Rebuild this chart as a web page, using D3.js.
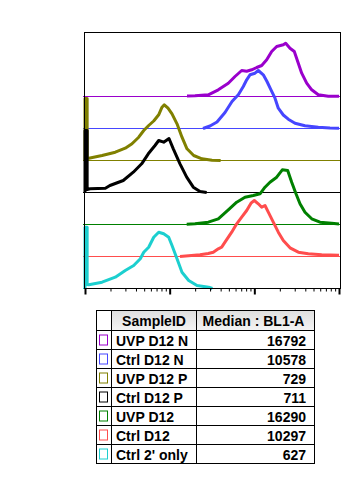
<!DOCTYPE html>
<html>
<head>
<meta charset="utf-8">
<script src="https://cdn.jsdelivr.net/npm/d3@7"></script>
<style>
  html, body { margin: 0; padding: 0; background: #fff; }
  svg { display: block; }
  text { font-family: "Liberation Sans", Arial, sans-serif; font-weight: bold; font-size: 14px; fill: #000; }
</style>
</head>
<body>
<svg id="chart" width="361" height="484"></svg>
<script>
// ---------------- data ----------------
const sampleIds = ["UVP D12 N", "Ctrl D12 N", "UVP D12 P", "Ctrl D12 P", "UVP D12", "Ctrl D12", "Ctrl 2' only"];
const medians = [16792, 10578, 729, 711, 16290, 10297, 627];
const tableHeaders = ["SampleID", "Median : BL1-A"];
const axisDomain = [100, 100000];

// histograms: [BL1-A intensity, count]
const histUVP_D12_N = [[1602,0.5],[1992,0.7],[2859,1.7],[3752,6.7],[4926,13.3],[5910,20],[7091,26],[8123,25.3],[9306,26.7],[10665,29],[12217,31],[13996,36.7],[16030,45],[18370,50],[21980,51.7],[23460,53.3],[26380,48.3],[29650,45],[33060,33.3],[36260,23.3],[41540,13.3],[47600,6.7],[56940,1.7],[74730,0.3],[100000,0.2]];
const histCtrl_D12_N = [[2476,0],[2995,2.5],[3622,6.5],[4503,16],[5449,27],[6466,33.7],[7407,42],[8123,48.7],[8884,53.7],[10181,55.3],[11139,58],[12757,53.7],[14110,47],[15730,38.7],[17540,30.3],[19190,20.3],[21980,13.5],[25180,9.3],[30220,5.3],[39660,2.7],[56940,1.3],[78270,0.5],[100000,0.3]];
const histUVP_D12_P = [[100,0],[100,62],[106,62],[106,2.5],[111,2.3],[159,5],[228,8.3],[299,12.3],[359,16.7],[431,23.3],[494,30],[565,35],[648,39.5],[742,45.7],[812,53.3],[864,55.7],[956,52.3],[1066,46.7],[1221,36.7],[1398,23.3],[1602,11.7],[1922,5],[2409,1.7],[3162,0.3],[4000,0]];
const histCtrl_D12_P = [[100,0],[100,62],[106,62],[106,3],[115,3.7],[174,4.3],[197,7],[283,12],[372,20.3],[467,28.7],[559,38.7],[671,47],[742,52],[850,50.3],[982,54],[1104,43.7],[1324,28.7],[1589,15.3],[1901,5.3],[2282,1],[2737,0]];
const histUVP_D12 = [[1589,0.3],[1992,0.7],[2859,2.3],[3752,5.7],[4926,14.7],[6190,22.3],[7756,27.3],[9721,29],[11667,30.7],[13363,37.3],[15300,42.3],[18370,47.3],[21390,54.7],[24770,54],[27630,42.3],[31050,30.7],[34620,20.7],[39660,12.3],[47600,5.7],[59640,2.3],[81980,1.3],[100000,0.5]];
const histCtrl_D12 = [[1324,0],[2282,1.7],[2859,3],[3276,4.3],[3752,7.7],[4117,9.3],[4503,14.3],[5404,24.3],[6190,32.7],[7091,39.3],[8123,46],[9130,53.3],[9989,56],[11139,52.7],[12217,49.3],[13363,51],[14620,44.3],[16750,34.3],[19190,24.3],[21980,16],[26380,8.7],[33060,4.3],[43380,2.7],[62460,1.7],[100000,1.3]];
const histCtrl_2only = [[100,0],[100,61.3],[106,61.3],[106,4],[111,3.7],[159,6.3],[228,11.3],[299,18],[376,23],[450,29.7],[494,36.3],[565,41.3],[648,51.3],[742,56.3],[850,54.7],[974,51.3],[1066,43],[1221,29.7],[1398,16.3],[1678,8],[2103,3],[2890,1.3],[3200,0]];
const histograms = [histUVP_D12_N, histCtrl_D12_N, histUVP_D12_P, histCtrl_D12_P, histUVP_D12, histCtrl_D12, histCtrl_2only];

// ---------------- styles ----------------
const colors = ["#9a00cc", "#4646ff", "#808000", "#000000", "#008000", "#ff4d4d", "#1ccfcf"];

const svg = d3.select("#chart");

// plot geometry
const plot = { left: 84.5, top: 32.5, right: 340.5, bottom: 288.5 };
const x = d3.scaleLog().domain(axisDomain).range([85, 339]);
const baseline = d3.scalePoint().domain(sampleIds).range([96.5, 288.5]);
const trackH = 64;

// histograms (top to bottom, later drawn on top)
sampleIds.forEach((id, i) => {
  const b = baseline(id);
  const y = d3.scaleLinear().domain([0, 64]).range([b, b - trackH]);
  svg.append("line")
    .attr("x1", 83).attr("x2", 341)
    .attr("y1", b).attr("y2", b)
    .attr("stroke", colors[i]).attr("stroke-width", 1);
  const line = d3.line().x(d => x(d[0])).y(d => y(d[1]));
  svg.append("path")
    .datum(histograms[i])
    .attr("d", line)
    .attr("fill", "none")
    .attr("stroke", colors[i])
    .attr("stroke-width", 3)
    .attr("stroke-linejoin", "round");
});

// frame
svg.append("rect")
  .attr("x", plot.left).attr("y", plot.top)
  .attr("width", plot.right - plot.left).attr("height", plot.bottom - plot.top)
  .attr("fill", "none").attr("stroke", "#000").attr("stroke-width", 1);

// ticks
const majorTicks = [100, 1000, 10000, 100000];
const minorTicks = [];
[100, 1000, 10000].forEach(d => { for (let k = 2; k <= 9; k++) minorTicks.push(d * k); });

const minorAxis = svg.append("g").attr("transform", `translate(0,${plot.bottom})`)
  .call(d3.axisBottom(x).tickValues(minorTicks).tickSize(3).tickFormat(""));
minorAxis.select(".domain").remove();
minorAxis.selectAll("line").attr("stroke", "#000").attr("stroke-width", 1);

const majorAxis = svg.append("g").attr("transform", `translate(0,${plot.bottom})`)
  .call(d3.axisBottom(x).tickValues(majorTicks).tickSize(6).tickFormat(""));
majorAxis.select(".domain").remove();
majorAxis.selectAll("line").attr("stroke", "#000").attr("stroke-width", 2);

// ---------------- table ----------------
const tbl = { left: 96.5, c1: 111.5, c2: 196.5, right: 314.5, top: 310.5, headH: 20, rowH: 19 };
const defs = svg.append("defs");
const grad = defs.append("linearGradient").attr("id", "hdr").attr("x1", 0).attr("y1", 0).attr("x2", 0).attr("y2", 1);
grad.append("stop").attr("offset", "0%").attr("stop-color", "#dedede");
grad.append("stop").attr("offset", "100%").attr("stop-color", "#f4f4f4");

const tblBottom = tbl.top + tbl.headH + tbl.rowH * sampleIds.length;
svg.append("rect").attr("x", tbl.c1).attr("y", tbl.top)
  .attr("width", tbl.right - tbl.c1).attr("height", tbl.headH).attr("fill", "url(#hdr)");

// header text
svg.append("text").attr("x", (tbl.c1 + tbl.c2) / 2).attr("y", tbl.top + 15.5)
  .attr("text-anchor", "middle").text(tableHeaders[0]);
svg.append("text").attr("x", (tbl.c2 + tbl.right) / 2 - 2).attr("y", tbl.top + 15.5)
  .attr("text-anchor", "middle").text(tableHeaders[1]);

const rowY = d3.scaleBand().domain(sampleIds)
  .range([tbl.top + tbl.headH, tblBottom]);

sampleIds.forEach((id, i) => {
  const ry = rowY(id);
  svg.append("rect").attr("x", 99.5).attr("y", ry + 4.5).attr("width", 8).attr("height", 10)
    .attr("fill", "#fff").attr("stroke", colors[i]).attr("stroke-width", 1);
  svg.append("text").attr("x", tbl.c1 + 4.5).attr("y", ry + 15).text(id);
  svg.append("text").attr("x", tbl.right - 8.5).attr("y", ry + 15)
    .attr("text-anchor", "end").text(medians[i]);
  svg.append("line").attr("x1", tbl.left).attr("x2", tbl.right)
    .attr("y1", ry).attr("y2", ry).attr("stroke", "#000");
});

// table grid
svg.append("rect").attr("x", tbl.left).attr("y", tbl.top)
  .attr("width", tbl.right - tbl.left).attr("height", tblBottom - tbl.top)
  .attr("fill", "none").attr("stroke", "#000");
[tbl.c1, tbl.c2].forEach(cx => {
  svg.append("line").attr("x1", cx).attr("x2", cx).attr("y1", tbl.top).attr("y2", tblBottom)
    .attr("stroke", "#000");
});
</script>
</body>
</html>
